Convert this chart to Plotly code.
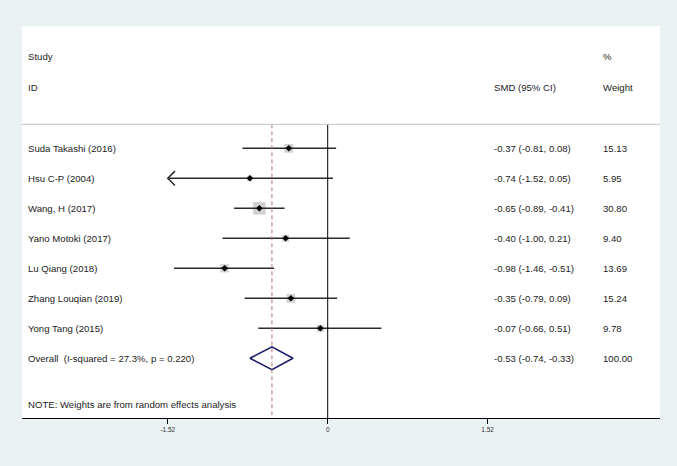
import plotly.graph_objects as go

# ---- data ----
studies = ["Suda Takashi (2016)", "Hsu C-P (2004)", "Wang, H (2017)", "Yano Motoki (2017)",
           "Lu Qiang (2018)", "Zhang Louqian (2019)", "Yong Tang (2015)"]
smd = [-0.37, -0.74, -0.65, -0.40, -0.98, -0.35, -0.07]
ci_low = [-0.81, -1.52, -0.89, -1.00, -1.46, -0.79, -0.66]
ci_high = [0.08, 0.05, -0.41, 0.21, -0.51, 0.09, 0.51]
weights = [15.13, 5.95, 30.80, 9.40, 13.69, 15.24, 9.78]
overall_est, overall_low, overall_high = -0.53, -0.74, -0.33
overall_label = "Overall\u00a0\u00a0(I-squared = 27.3%, p = 0.220)"
overall_weight = 100.00
note_text = "NOTE: Weights are from random effects analysis"
tick_vals = [-1.52, 0, 1.52]
tick_text = ["-1.52", "0", "1.52"]

FONT = "Liberation Sans, Arial, sans-serif"
TXT = "#222222"
rows = list(range(1, len(studies) + 1))
overall_row = len(studies) + 1
clip_min = tick_vals[0]

fig = go.Figure()

# weight boxes
max_w = max(weights)
fig.add_trace(go.Scatter(
    x=smd, y=rows, mode="markers",
    marker=dict(symbol="square", color="#BDBDBD",
                size=[12.5 * (w / max_w) ** 0.5 for w in weights],
                line=dict(width=0)),
    hoverinfo="skip", showlegend=False))

# CI lines (with arrow when clipped)
xs, ys = [], []
dx_arrow, dy_arrow = 0.068, 0.24
for lo, hi, r in zip(ci_low, ci_high, rows):
    lo_c = max(lo, clip_min)
    xs += [lo_c, hi, None]
    ys += [r, r, None]
    if lo <= clip_min:
        xs += [lo_c + dx_arrow, lo_c, lo_c + dx_arrow, None]
        ys += [r - dy_arrow, r, r + dy_arrow, None]
fig.add_trace(go.Scatter(x=xs, y=ys, mode="lines",
                         line=dict(color="#2b2b2b", width=1.5),
                         hoverinfo="skip", showlegend=False))

# point estimates
fig.add_trace(go.Scatter(
    x=smd, y=rows, mode="markers",
    marker=dict(symbol="diamond", color="black", size=5),
    hoverinfo="skip", showlegend=False))

# overall diamond
h = 0.38
fig.add_trace(go.Scatter(
    x=[overall_low, overall_est, overall_high, overall_est, overall_low],
    y=[overall_row, overall_row - h, overall_row, overall_row + h, overall_row],
    mode="lines", line=dict(color="#1B1B6B", width=1.6),
    hoverinfo="skip", showlegend=False))

y_top, y_bottom = -3.077, 9.99
header_y = 0.2

# zero line
fig.add_shape(type="line", x0=0, x1=0, y0=header_y, y1=y_bottom, xref="x", yref="y",
              line=dict(color="black", width=1))
# overall dashed line
fig.add_shape(type="line", x0=overall_est, x1=overall_est, y0=header_y, y1=y_bottom,
              xref="x", yref="y", line=dict(color="#B07672", width=1, dash="4px,3px"))
# header separator
fig.add_shape(type="line", x0=0, x1=1, y0=header_y, y1=header_y, xref="paper", yref="y",
              line=dict(color="#C4C4C4", width=1))

ann = []
def txt(x, y, s):
    ann.append(dict(x=x, y=y, xref="paper", yref="y", text=s, showarrow=False,
                    xanchor="left", yanchor="middle",
                    font=dict(family=FONT, size=9.6, color=TXT)))

x_study, x_smd, x_w = 0.007, 0.736, 0.908
txt(x_study, -2.05, "Study")
txt(x_study, -1.03, "ID")
txt(x_w, -2.05, "%")
txt(x_smd, -1.03, "SMD (95% CI)")
txt(x_w, -1.03, "Weight")
for s, e, lo, hi, w, r in zip(studies, smd, ci_low, ci_high, weights, rows):
    txt(x_study, r, s)
    txt(x_smd, r, f"{e:.2f} ({lo:.2f}, {hi:.2f})")
    txt(x_w, r, f"{w:.2f}")
txt(x_study, overall_row, overall_label)
txt(x_smd, overall_row, f"{overall_est:.2f} ({overall_low:.2f}, {overall_high:.2f})")
txt(x_w, overall_row, f"{overall_weight:.2f}")
txt(x_study, 9.53, note_text)

fig.update_layout(
    width=677, height=466,
    margin=dict(l=22, r=17, t=26, b=48),
    paper_bgcolor="#EAF1F3", plot_bgcolor="white",
    annotations=ann, showlegend=False,
    xaxis=dict(range=[-2.906, 3.159], showgrid=False, zeroline=False,
               showline=True, linecolor="black", linewidth=1,
               ticks="outside", ticklen=5, tickcolor="black", tickwidth=1,
               tickvals=tick_vals, ticktext=tick_text,
               tickfont=dict(family=FONT, size=6.5, color="#333333"), fixedrange=True),
    yaxis=dict(range=[y_bottom, y_top], showgrid=False, zeroline=False,
               showticklabels=False, showline=False, fixedrange=True),
)

fig.write_html("out.html", config={"displayModeBar": False},
               post_script="document.body.style.margin='0';document.body.style.background='#EAF1F3';")
